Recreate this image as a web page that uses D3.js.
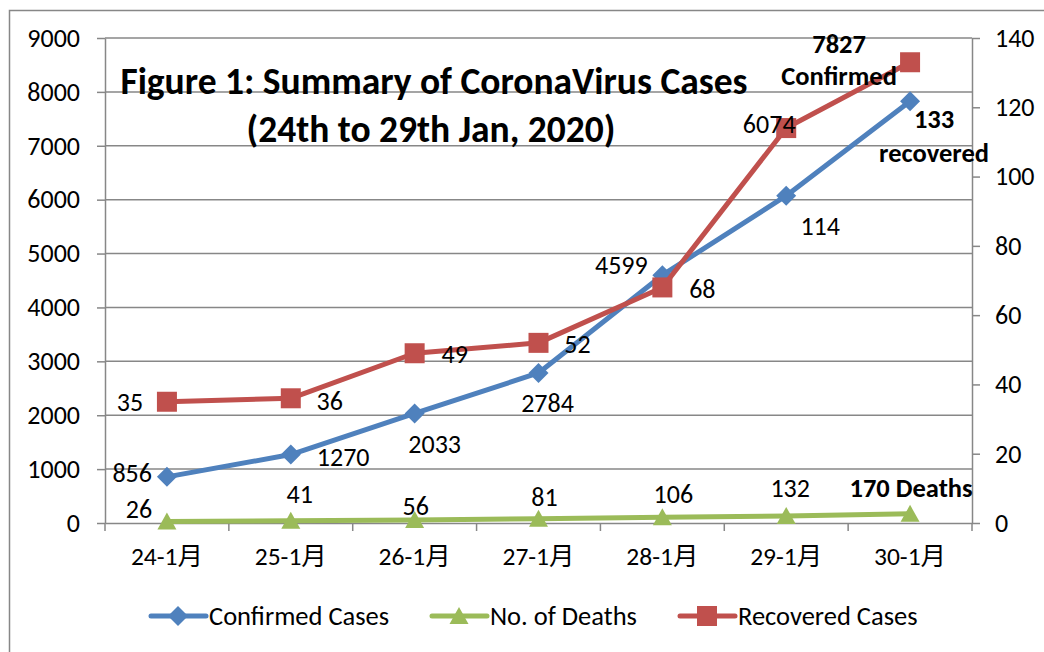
<!DOCTYPE html>
<html>
<head>
<meta charset="utf-8">
<script src="https://cdn.jsdelivr.net/npm/d3@7"></script>
<style>
  body { margin: 0; background: #fff; }
  svg { display: block; }
  text { font-family: Carlito, Lato, "Noto Sans", "Noto Sans CJK SC", sans-serif; fill: #000; }
</style>
</head>
<body>
<svg id="chart" width="1044" height="652"></svg>
<script>
// chart data
const categories = ["24-1月", "25-1月", "26-1月", "27-1月", "28-1月", "29-1月", "30-1月"];
const confirmed = [856, 1270, 2033, 2784, 4599, 6074, 7827];
const deaths = [26, 41, 56, 81, 106, 132, 170];
const recovered = [35, 36, 49, 52, 68, 114, 133];
const leftTicks = [0, 1000, 2000, 3000, 4000, 5000, 6000, 7000, 8000, 9000];
const rightTicks = [0, 20, 40, 60, 80, 100, 120, 140];

// label placement (offset from each point), kept apart from the values
const confirmedLabelPos = [[-15, 5, "end"], [26, 11, "start"], [20, 40, "middle"], [9, 39, "middle"],
  [-41, -1, "middle"], [-17, -63, "middle"], null];
const recoveredLabelPos = [[-37, 9, "middle"], [39, 12, "middle"], [40, 10, "middle"], [39, 10, "middle"],
  [40, 11, "middle"], [34, 107, "middle"], null];
const deathsLabelPos = [[-28, -4, "middle"], [9, -18, "middle"], [1, -5, "middle"], [6, -13, "middle"],
  [11, -14, "middle"], [4, -19, "middle"], null];

const svg = d3.select("#chart");
const gridColor = "#878787";
const colors = { confirmed: "#4f81bd", deaths: "#9bbb59", recovered: "#c0504d" };
const labelSize = 26;

const margin = { left: 105, right: 972, top: 38, bottom: 523 };

const x = d3.scaleBand().domain(categories).range([margin.left, margin.right]);
const yL = d3.scaleLinear().domain([0, 9000]).range([margin.bottom, margin.top]);
const yR = d3.scaleLinear().domain([0, 140]).range([margin.bottom, margin.top]);
const cx = (c) => x(c) + x.bandwidth() / 2;

// outer chart frame (cut off at right / bottom)
svg.append("path")
  .attr("d", "M9.5,652 L9.5,10.5 L1044,10.5")
  .attr("fill", "none")
  .attr("stroke", gridColor)
  .attr("stroke-width", 1.5);

// horizontal gridlines
svg.append("g")
  .selectAll("line")
  .data(leftTicks.slice(1))
  .join("line")
  .attr("x1", margin.left)
  .attr("x2", margin.right)
  .attr("y1", (d) => yL(d))
  .attr("y2", (d) => yL(d))
  .attr("stroke", gridColor)
  .attr("stroke-width", 1.5);

// left axis
const axL = svg.append("g")
  .attr("transform", `translate(${margin.left},0)`)
  .call(d3.axisLeft(yL).tickValues(leftTicks).tickFormat(d3.format("d"))
    .tickSize(8).tickPadding(17).tickSizeOuter(0));
// right axis
const axR = svg.append("g")
  .attr("transform", `translate(${margin.right},0)`)
  .call(d3.axisRight(yR).tickValues(rightTicks).tickFormat(d3.format("d"))
    .tickSize(8).tickPadding(15).tickSizeOuter(0));
// bottom axis (labels only, ticks drawn at band edges)
const axB = svg.append("g")
  .attr("transform", `translate(0,${margin.bottom})`)
  .call(d3.axisBottom(x).tickSize(0).tickPadding(24).tickSizeOuter(0));

[axL, axR, axB].forEach((ax) => {
  ax.select(".domain").attr("stroke", gridColor).attr("stroke-width", 1.5);
  ax.selectAll(".tick line").attr("stroke", gridColor).attr("stroke-width", 1.5);
  ax.selectAll("text").attr("font-size", 26).attr("font-family", null);
});
axB.selectAll("text").attr("font-size", 25.5);

svg.append("g")
  .selectAll("line")
  .data(categories.map((c) => x(c)).concat([margin.right]))
  .join("line")
  .attr("x1", (d) => d)
  .attr("x2", (d) => d)
  .attr("y1", margin.bottom)
  .attr("y2", margin.bottom + 8)
  .attr("stroke", gridColor)
  .attr("stroke-width", 1.5);

// markers
function marker(sel, kind, color) {
  if (kind === "diamond") {
    sel.append("path").attr("d", "M0,-10 L10,0 L0,10 L-10,0 Z").attr("fill", color);
  } else if (kind === "square") {
    sel.append("rect").attr("x", -10).attr("y", -10).attr("width", 20).attr("height", 20).attr("fill", color);
  } else {
    sel.append("path").attr("d", "M0,-9 L9.5,8 L-9.5,8 Z").attr("fill", color);
  }
}

const series = [
  { key: "confirmed", values: confirmed, y: yL, shape: "diamond" },
  { key: "deaths", values: deaths, y: yL, shape: "triangle" },
  { key: "recovered", values: recovered, y: yR, shape: "square" },
];

series.forEach((s) => {
  const pts = categories.map((c, i) => [cx(c), s.y(s.values[i])]);
  svg.append("path")
    .attr("d", d3.line()(pts))
    .attr("fill", "none")
    .attr("stroke", colors[s.key])
    .attr("stroke-width", 5)
    .attr("stroke-linejoin", "round");
  svg.append("g")
    .selectAll("g")
    .data(pts)
    .join("g")
    .attr("transform", (d) => `translate(${d[0]},${d[1]})`)
    .each(function () { marker(d3.select(this), s.shape, colors[s.key]); });
});

// data labels
function addLabels(values, yScale, pos) {
  values.forEach((v, i) => {
    if (!pos[i]) return;
    const [dx, dy, anchor] = pos[i];
    svg.append("text")
      .attr("x", cx(categories[i]) + dx)
      .attr("y", yScale(v) + dy)
      .attr("text-anchor", anchor)
      .attr("font-size", labelSize)
      .text(v);
  });
}
addLabels(confirmed, yL, confirmedLabelPos);
addLabels(recovered, yR, recoveredLabelPos);
addLabels(deaths, yL, deathsLabelPos);

// bold callouts for the last day
const last = categories.length - 1;
const lastX = cx(categories[last]);
function callout(lines, px, py, dx, dys) {
  lines.forEach((t, j) => {
    svg.append("text")
      .attr("x", px + dx)
      .attr("y", py + dys[j])
      .attr("text-anchor", "middle")
      .attr("font-size", 26.5)
      .attr("font-weight", "bold")
      .text(t);
  });
}
callout([confirmed[last], "Confirmed"], lastX, yL(confirmed[last]), -71, [-48, -16]);
callout([recovered[last], "recovered"], lastX, yR(recovered[last]), 24, [66, 100]);
callout([deaths[last] + " Deaths"], lastX, yL(deaths[last]), 1, [-17]);

// title
const title = svg.append("text")
  .attr("text-anchor", "middle")
  .attr("font-size", 37.5)
  .attr("font-weight", "bold");
title.append("tspan").attr("x", 434).attr("y", 94).text("Figure 1: Summary of CoronaVirus Cases");
title.append("tspan").attr("x", 431).attr("y", 142).text("(24th to 29th Jan, 2020)");

// legend
const legendItems = [
  { label: "Confirmed Cases", key: "confirmed", shape: "diamond", x: 151 },
  { label: "No. of Deaths", key: "deaths", shape: "triangle", x: 432 },
  { label: "Recovered Cases", key: "recovered", shape: "square", x: 680 },
];
const legend = svg.append("g").attr("transform", "translate(0,616)");
legendItems.forEach((it) => {
  const g = legend.append("g").attr("transform", `translate(${it.x},0)`);
  g.append("line").attr("x1", 0).attr("x2", 55).attr("stroke", colors[it.key]).attr("stroke-width", 5)
    .attr("stroke-linecap", "round");
  const m = g.append("g").attr("transform", "translate(27,0)");
  marker(m, it.shape, colors[it.key]);
  g.append("text").attr("x", 58).attr("y", 9).attr("font-size", 26.5).text(it.label);
});
</script>
</body>
</html>
